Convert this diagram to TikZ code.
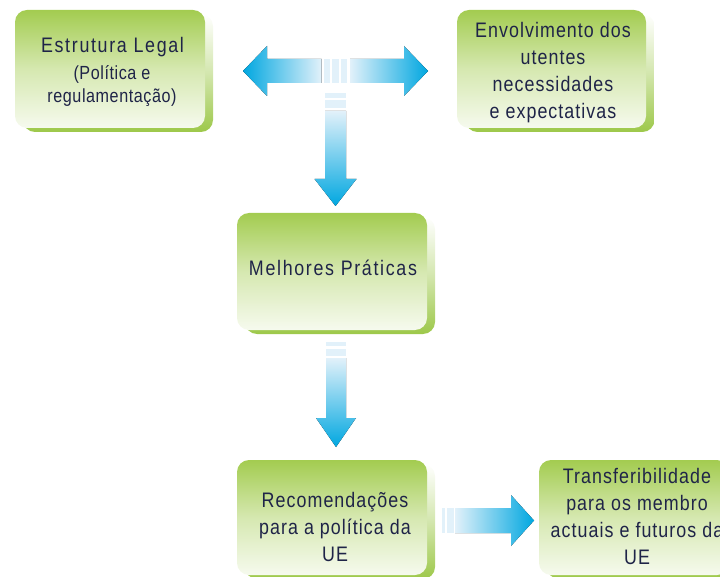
\documentclass[tikz,border=0pt]{standalone}
\usepackage{fontspec}
\newfontfamily\labA[FakeStretch=0.85,LetterSpace=5]{Liberation Sans}
\newfontfamily\labB[FakeStretch=0.85,LetterSpace=8]{Liberation Sans}
\newfontfamily\labC[FakeStretch=0.85,LetterSpace=3]{Liberation Sans}
\definecolor{gtop}{HTML}{A3CC50}
\definecolor{gbot}{HTML}{F6FAEE}
\definecolor{gsh}{HTML}{9DC84A}
\definecolor{abl}{HTML}{00A7E0}
\definecolor{apl}{HTML}{E2F1FA}
\definecolor{txt}{HTML}{1F2448}
\tikzset{
  gbox/.style={rectangle, rounded corners=12pt, inner sep=0pt, top color=gtop, bottom color=gbot, middle color=gtop!45!white, draw=none},
  gshadow/.style={rectangle, rounded corners=12pt, inner sep=0pt, top color=white, bottom color=gsh, middle color=gsh!45!white, draw=none},
  lbl/.style={text=txt, align=center, inner sep=0pt},
  bigf/.style={font=\fontsize{21}{27}\selectfont\labA},
  bigwide/.style={font=\fontsize{21}{27}\selectfont\labB},
  smallf/.style={font=\fontsize{19}{23}\selectfont\labC},
  barf/.style={fill=apl, draw=none}
}
\begin{document}
\begin{tikzpicture}[x=1pt, y=-1pt]
\useasboundingbox (0,0) rectangle (720,577);
\clip (0,0) rectangle (720,577);
% shadows
\node[gshadow, minimum width=190pt, minimum height=118pt] (s1) at (118,73) {};
\node[gshadow, minimum width=189pt, minimum height=118pt] (s2) at (560,73) {};
\node[gshadow, minimum width=190pt, minimum height=117pt] (s3) at (340,275.5) {};
\node[gshadow, minimum width=190pt, minimum height=115pt] (s4) at (340,521.5) {};
\node[gshadow, minimum width=190pt, minimum height=115pt] (s5) at (642,521.5) {};
% boxes
\node[gbox, minimum width=190pt, minimum height=118pt] (b1) at (110,69) {};
\node[gbox, minimum width=189pt, minimum height=118pt] (b2) at (551.5,69) {};
\node[gbox, minimum width=190pt, minimum height=117pt] (b3) at (332,271.5) {};
\node[gbox, minimum width=190pt, minimum height=115pt] (b4) at (332,517.5) {};
\node[gbox, minimum width=190pt, minimum height=115pt] (b5) at (634,517.5) {};
% texts
\node[lbl, bigwide] (t1a) at (112.5,47) {Estrutura Legal};
\node[lbl, smallf] (t1b) at (112,86) {(Política e\\regulamentação)};
\node[lbl, bigf] (t2) at (553,73) {Envolvimento dos\\utentes\\necessidades\\e expectativas};
\node[lbl, bigwide] (t3) at (333,268) {Melhores Práticas};
\node[lbl, bigf] (t4) at (335,527) {Recomendações\\para a política da\\UE};
\node[lbl, bigf] (t5) at (637,516) {Transferibilidade\\para os membro\\actuais e futuros da\\UE};
% double arrow (between b1 and b2)
\fill[left color=abl, right color=apl] (243,71) -- (267,46) -- (267,59) -- (321.5,59) -- (321.5,83) -- (267,83) -- (267,96) -- cycle;
\fill[left color=apl, right color=abl] (350,59) -- (404,59) -- (404,46) -- (428,71) -- (404,96) -- (404,83) -- (350,83) -- cycle;
\fill[barf] (324,59) rectangle (330,83);
\fill[barf] (332,59) rectangle (339,83);
\fill[barf] (341,59) rectangle (347,83);
% vertical arrow 1
\fill[barf] (325,93) rectangle (346,98);
\fill[barf] (325,100) rectangle (346,108);
\fill[top color=apl, bottom color=abl] (325,111) -- (346,111) -- (346,179) -- (356.5,179) -- (335.5,206) -- (314.5,179) -- (325,179) -- cycle;
% vertical arrow 2
\fill[barf] (326,342) rectangle (346,346);
\fill[barf] (326,349) rectangle (346,356);
\fill[top color=apl, bottom color=abl] (326,358) -- (346,358) -- (346,418) -- (356,418) -- (336,447) -- (316,418) -- (326,418) -- cycle;
% horizontal arrow 3
\fill[barf] (442,508) rectangle (445,533);
\fill[barf] (447,508) rectangle (454,533);
\fill[left color=apl, right color=abl] (455,508) -- (511,508) -- (511,495) -- (534,520.5) -- (511,546) -- (511,533) -- (455,533) -- cycle;
\end{tikzpicture}
\end{document}
